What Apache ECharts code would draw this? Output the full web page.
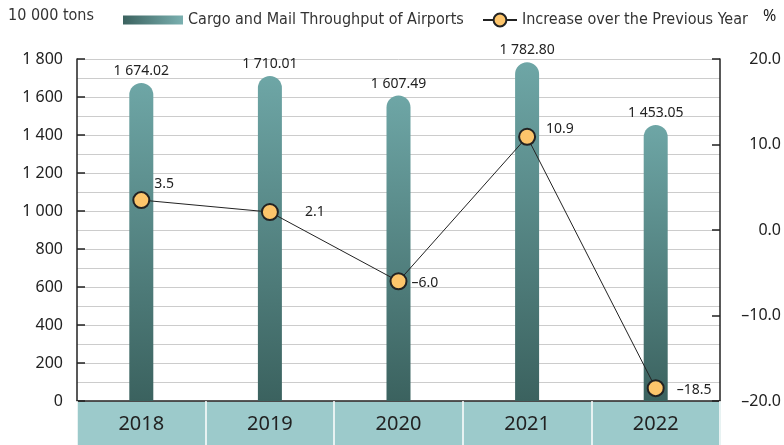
<!DOCTYPE html>
<html>
<head>
<meta charset="utf-8">
<script src="https://cdn.jsdelivr.net/npm/echarts@6/dist/echarts.min.js"></script>
<style>
  html, body { margin: 0; padding: 0; background: #fff; }
  #main { width: 784px; height: 445px; }
</style>
</head>
<body>
<div id="main"></div>
<script>
// data
var years = ['2018', '2019', '2020', '2021', '2022'];
var throughput = [1674.02, 1710.01, 1607.49, 1782.80, 1453.05];   // 10 000 tons
var increase = [3.5, 2.1, -6.0, 10.9, -18.5];                      // %

// label nudges for the line values (style only)
var lineLabelOffsets = [[0, -16], [22, 0], [0, 2], [6, -8], [8, 2]];

var FONT = '"Noto Sans", "Open Sans", sans-serif';
var NARROW = '"Liberation Sans Narrow", "DejaVu Sans Condensed", sans-serif';

function thousands(v, dec) {
    var s = v.toFixed(dec);
    var parts = s.split('.');
    var neg = parts[0].charAt(0) === '-';
    var intPart = neg ? parts[0].slice(1) : parts[0];
    intPart = intPart.replace(/\B(?=(\d{3})+(?!\d))/g, ' ');
    return (neg ? '\u2013' : '') + intPart + (parts[1] ? '.' + parts[1] : '');
}

var chart = echarts.init(document.getElementById('main'), null, { renderer: 'canvas' });

var barColor = new echarts.graphic.LinearGradient(0, 0, 0, 1, [
    { offset: 0, color: '#6ea6a6' },
    { offset: 1, color: '#3b625f' }
]);
var legendBarColor = new echarts.graphic.LinearGradient(0, 0, 1, 0, [
    { offset: 0, color: '#3b625f' },
    { offset: 1, color: '#7ab0b0' }
]);

var option = {
    backgroundColor: '#fff',
    animation: false,
    grid: { left: 77, right: 63, top: 59, bottom: 44 },
    graphic: [
        { type: 'rect', left: 77, top: 401, shape: { width: 644, height: 44 }, style: { fill: '#9ccacb' }, z: -1 },
        { type: 'text', left: 8, top: 8, style: { text: '10 000 tons', fill: '#333', font: '16px ' + NARROW } },
        { type: 'text', left: 763, top: 8, style: { text: '%', fill: '#222', font: '16px "Noto Sans", sans-serif' } }
    ],
    legend: [
        {
            top: 7,
            left: 118,
            itemWidth: 60,
            itemHeight: 9,
            textStyle: { fontFamily: NARROW, fontSize: 16, color: '#333' },
            data: [{ name: 'Cargo and Mail Throughput of Airports', icon: 'rect', itemStyle: { color: legendBarColor } }]
        },
        {
            top: 7,
            left: 477,
            itemWidth: 34,
            itemHeight: 16,
            itemGap: 6,
            textStyle: { fontFamily: NARROW, fontSize: 16, color: '#333' },
            data: [{ name: 'Increase over the Previous Year' }]
        }
    ],
    xAxis: {
        type: 'category',
        data: years,
        axisLine: { show: true, lineStyle: { color: '#222', width: 1.5 } },
        axisTick: { show: true, length: 44, lineStyle: { color: '#fff', width: 1.5 } },
        axisLabel: { fontFamily: FONT, fontSize: 20, color: '#222', margin: 13 },
        splitLine: { show: false }
    },
    yAxis: [
        {
            type: 'value',
            min: 0, max: 1800, interval: 200,
            axisLine: { show: true, lineStyle: { color: '#222', width: 1.5 } },
            axisTick: { show: true, inside: true, length: 8, lineStyle: { color: '#222', width: 1.5 } },
            axisLabel: {
                fontFamily: FONT, fontSize: 16, color: '#222', margin: 14,
                formatter: function (v) { return thousands(v, 0); }
            },
            splitLine: { show: true, lineStyle: { color: '#cccccc', width: 1 } },
            minorTick: { show: false, splitNumber: 2 },
            minorSplitLine: { show: true, lineStyle: { color: '#cccccc', width: 1 } }
        },
        {
            type: 'value',
            min: -20, max: 20, interval: 10,
            axisLine: { show: true, lineStyle: { color: '#222', width: 1.5 } },
            axisTick: { show: true, inside: true, length: 8, lineStyle: { color: '#222', width: 1.5 } },
            axisLabel: {
                fontFamily: FONT, fontSize: 16, color: '#222', margin: 61, align: 'right',
                formatter: function (v) { return thousands(v, 1); }
            },
            splitLine: { show: false }
        }
    ],
    series: [
        {
            name: 'Cargo and Mail Throughput of Airports',
            type: 'bar',
            data: throughput,
            barWidth: 24,
            itemStyle: { color: barColor, borderRadius: [12, 12, 0, 0] },
            label: {
                show: true, position: 'top', distance: 5,
                fontFamily: FONT, fontSize: 14, color: '#222',
                formatter: function (p) { return thousands(p.value, 2); }
            },
            z: 2
        },
        {
            name: 'Increase over the Previous Year',
            type: 'line',
            yAxisIndex: 1,
            data: increase.map(function (v, i) {
                return { value: v, label: { offset: lineLabelOffsets[i] } };
            }),
            symbol: 'circle',
            symbolSize: 16,
            lineStyle: { color: '#222', width: 1 },
            itemStyle: { color: '#fdc56b', borderColor: '#222', borderWidth: 2 },
            label: {
                show: true, position: 'right', distance: 4,
                fontFamily: FONT, fontSize: 14, color: '#222',
                formatter: function (p) { return thousands(p.value, 1); }
            },
            z: 5
        }
    ]
};

chart.setOption(option);
</script>
</body>
</html>
